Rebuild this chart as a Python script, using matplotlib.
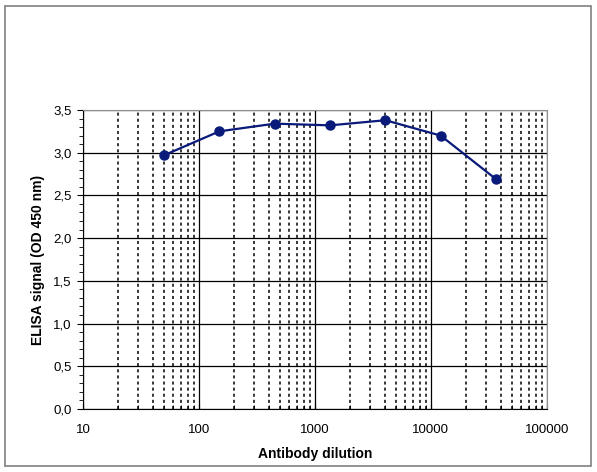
import matplotlib.pyplot as plt
import matplotlib.ticker as mticker
from matplotlib.patches import Rectangle

dilution = [50, 150, 450, 1350, 4050, 12150, 36450]
signal = [2.97, 3.25, 3.34, 3.32, 3.38, 3.20, 2.69]
y_ticks = [0.0, 0.5, 1.0, 1.5, 2.0, 2.5, 3.0, 3.5]

plt.rcParams['font.family'] = ['Liberation Sans', 'DejaVu Sans']

fig = plt.figure(figsize=(5.97, 4.72), dpi=100)
fig.patches.append(Rectangle((0.008, 0.012), 0.982, 0.976, transform=fig.transFigure,
                             fill=False, edgecolor='#808080', linewidth=1.2))
ax = fig.add_axes([0.139, 0.1335, 0.777, 0.6335])

ax.plot(dilution, signal, color='#0a1a7a', linewidth=1.6, marker='o',
        markersize=6.5, zorder=5)

ax.set_xscale('log')
ax.set_xlim(10, 100000)
ax.set_ylim(0, 3.5)
ax.set_yticks(y_ticks)
ax.yaxis.set_minor_locator(mticker.MultipleLocator(0.1))
ax.yaxis.set_major_formatter(mticker.FuncFormatter(lambda v, p: f"{v:.1f}".replace('.', ',')))
ax.xaxis.set_major_formatter(mticker.FuncFormatter(lambda v, p: f"{int(round(v))}"))
ax.xaxis.set_minor_formatter(mticker.NullFormatter())

ax.grid(True, which='major', axis='both', color='black', linewidth=0.9)
ax.grid(True, which='minor', axis='x', color='black', linewidth=1.1, linestyle=(0, (2.0, 2.0)))

for s in ['top', 'right']:
    ax.spines[s].set_color('#909090')
ax.spines['left'].set_color('black')
ax.spines['bottom'].set_color('black')

ax.tick_params(axis='both', which='major', labelsize=9.5, length=4, color='black', pad=4)
ax.tick_params(axis='y', which='minor', length=3)
ax.tick_params(axis='x', which='minor', length=3, direction='in')
ax.tick_params(axis='x', which='major', pad=11, direction='in')

ax.set_xlabel('Antibody dilution', fontsize=10, fontweight='bold', labelpad=8)
ax.set_ylabel('ELISA signal (OD 450 nm)', fontsize=10, fontweight='bold', labelpad=6)

fig.savefig('out.png', dpi=100)
